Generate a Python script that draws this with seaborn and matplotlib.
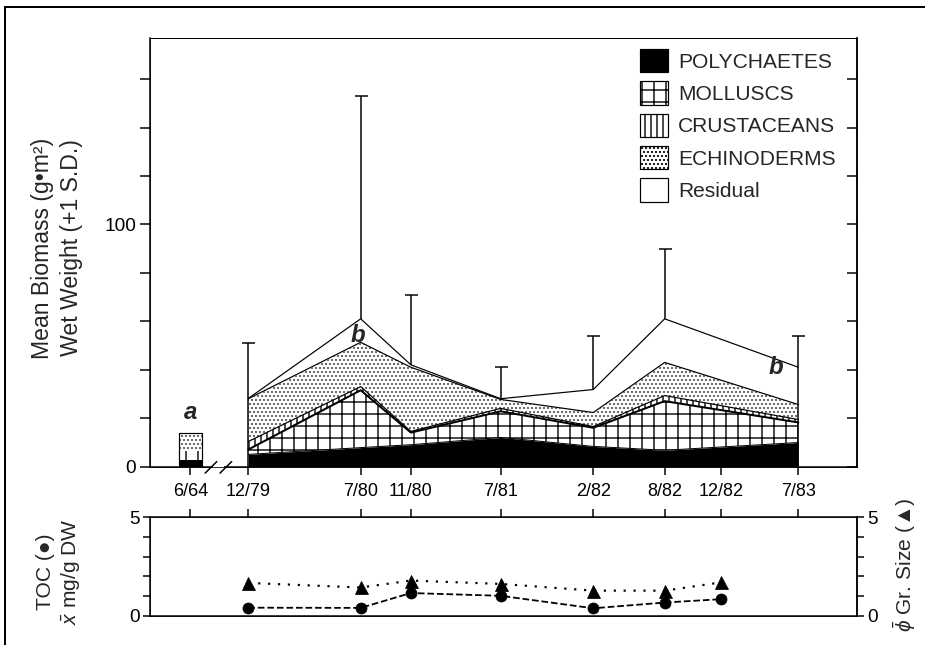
import matplotlib
matplotlib.use("Agg")
import matplotlib.pyplot as plt
from matplotlib.lines import Line2D
from matplotlib.patches import Patch, Rectangle
import numpy as np
import seaborn as sns

# Sampling dates and where they sit on the (non-linear) time axis, 0-100
dates = ["6/64", "12/79", "7/80", "11/80", "7/81", "2/82", "8/82", "12/82", "7/83"]
date_pos = [5.7, 13.9, 29.8, 36.9, 49.6, 62.7, 72.8, 80.8, 91.7]

# Mean biomass (g m-2 wet weight) by taxon
bio_dates = ["12/79", "7/80", "11/80", "7/81", "2/82", "8/82", "7/83"]
polychaetes = [5.0, 7.8, 9.0, 12.0, 8.3, 6.7, 9.9]
molluscs = [2.0, 23.7, 5.0, 10.8, 7.7, 20.3, 8.3]
crustaceans = [3.3, 1.5, 0.5, 1.2, 0.5, 2.3, 1.2]
echinoderms = [17.7, 18.3, 26.5, 3.7, 5.8, 13.7, 6.2]
residual = [0.1, 9.7, 1.0, 0.3, 9.5, 18.0, 15.4]
total_sd = [23, 92, 29, 13, 22, 29, 13]

# 6/64 survey: polychaetes, molluscs, crustaceans, echinoderms, residual
early_date = "6/64"
early_bar = [2.5, 3.7, 0.3, 7.5, 0.0]

# Sediment: total organic carbon and mean grain size (phi)
env_dates = ["12/79", "7/80", "11/80", "7/81", "2/82", "8/82", "12/82"]
toc = [0.42, 0.41, 1.16, 1.02, 0.39, 0.68, 0.85]
grain_size = [1.67, 1.44, 1.79, 1.62, 1.28, 1.28, 1.70]

labels = ["POLYCHAETES", "MOLLUSCS", "CRUSTACEANS", "ECHINODERMS", "Residual"]
faces = ["black", "white", "white", "white", "white"]
hatches = [None, "+", "||", "...", None]
hatch_cols = ["black", "black", "black", "#555555", "black"]
top_lw = [1.0, 2.0, 1.2, 1.2, 1.2]

sns.set_style("ticks")
plt.rcParams["font.family"] = ["Liberation Sans", "DejaVu Sans"]
plt.rcParams["mathtext.fontset"] = "custom"
plt.rcParams["mathtext.rm"] = "Liberation Sans"
plt.rcParams["mathtext.it"] = "Liberation Sans:italic"
plt.rcParams["hatch.linewidth"] = 1.4
plt.rcParams["axes.edgecolor"] = "black"
plt.rcParams["xtick.color"] = "black"
plt.rcParams["ytick.color"] = "black"

W, H = 925, 645
fig = plt.figure(figsize=(W / 72, H / 72), dpi=72)
ax1 = fig.add_axes([150 / W, 1 - 466.5 / H, 707 / W, 428.5 / H])
ax2 = fig.add_axes([150 / W, 1 - 616 / H, 707 / W, 99 / H])

pos = dict(zip(dates, date_pos))

# ---- top panel: stacked biomass ----
x = np.array([pos[d] for d in bio_dates])
layers = np.vstack([polychaetes, molluscs, crustaceans, echinoderms, residual])
cum = np.cumsum(layers, axis=0)
base = np.vstack([np.zeros(len(x)), cum[:-1]])

for i in range(len(labels)):
    ax1.fill_between(x, base[i], cum[i], facecolor=faces[i],
                     edgecolor=hatch_cols[i], hatch=hatches[i], linewidth=0,
                     zorder=1)
    ax1.plot(x, cum[i], color="black", lw=top_lw[i], zorder=2)

total = cum[-1]
sd = np.array(total_sd)
ax1.vlines(x, total, total + sd, color="black", lw=1.5, zorder=3)
ax1.plot(x, total + sd, ls="none", marker="_", ms=13, mew=1.5,
         color="black", zorder=3)
ax1.vlines([x[0], x[-1]], 0, [total[0], total[-1]], color="black", lw=1.5,
           zorder=3)

# 6/64 bar
ex = pos[early_date]
eb = np.cumsum(early_bar)
ebase = np.concatenate([[0], eb[:-1]])
for i in range(len(labels)):
    if early_bar[i] <= 0:
        continue
    ax1.bar(ex, early_bar[i], bottom=ebase[i], width=3.3, facecolor=faces[i],
            edgecolor=hatch_cols[i], hatch=hatches[i], linewidth=0, zorder=1)
ax1.bar(ex, eb[-1], width=3.3, fill=False, edgecolor="black", lw=1.2, zorder=2)

# significance letters
ax1.text(ex, 22.5, "a", ha="center", va="center", fontsize=24,
         fontweight="bold", fontstyle="italic")
ax1.text(29.4, 54.3, "b", ha="center", va="center", fontsize=24,
         fontweight="bold", fontstyle="italic")
ax1.text(88.5, 40.7, "b", ha="center", va="center", fontsize=24,
         fontweight="bold", fontstyle="italic")

ax1.set_xlim(0, 100)
ax1.set_ylim(0, 177)
ax1.set_xticks(date_pos, dates)
yt = np.arange(0, 161, 20)
ax1.set_yticks(yt, [str(v) if v in (0, 100) else "" for v in yt])
ax1.tick_params(axis="x", direction="out", length=8, width=1.5, pad=9,
                labelsize=18)
ax1.tick_params(axis="y", direction="out", length=10, width=1.5, pad=4,
                labelsize=19)
for s in ax1.spines.values():
    s.set_linewidth(1.5)
ax1.spines["top"].set_linewidth(1.0)

ax1r = ax1.twinx()
ax1r.set_ylim(0, 177)
ax1r.set_yticks(yt)
ax1r.tick_params(axis="y", direction="in", length=10, width=1.5,
                 labelright=False)
ax1r.spines["right"].set_linewidth(1.5)

# axis break marks
ax1.add_patch(Rectangle((0.089, -0.01), 0.015, 0.02, transform=ax1.transAxes,
                        facecolor="white", edgecolor="none", clip_on=False,
                        zorder=5))
for x0 in (0.078, 0.099):
    ax1.add_line(Line2D([x0, x0 + 0.0165], [-0.0155, 0.0115],
                        transform=ax1.transAxes, color="black", lw=1.5,
                        clip_on=False, zorder=6))

handles = [Patch(facecolor=faces[i], edgecolor="black", hatch=hatches[i],
                 linewidth=1.2, label=labels[i]) for i in range(len(labels))]
ax1.legend(handles=handles, loc="upper left", bbox_to_anchor=(0.693, 0.974),
           frameon=False, fontsize=21, handlelength=1.33, handleheight=1.33,
           labelspacing=0.43, handletextpad=0.48, borderpad=0,
           borderaxespad=0)

# ---- bottom panel: sediment ----
ex_env = [pos[d] for d in env_dates]
sns.lineplot(x=ex_env, y=toc, ax=ax2, color="black", linestyle="--", lw=1.8,
             marker="o", markersize=11, markeredgecolor="black")
ax2.set_xlim(0, 100)
ax2.set_ylim(0, 5)
ax2.xaxis.tick_top()
ax2.set_xticks(date_pos, [""] * len(date_pos))
ax2.tick_params(axis="x", direction="out", length=8, width=1.5)
ax2.set_yticks(range(6), ["0", "", "", "", "", "5"])
ax2.tick_params(axis="y", direction="out", length=7, width=1.5, pad=3,
                labelsize=19)
for s in ax2.spines.values():
    s.set_linewidth(1.5)

ax2r = ax2.twinx()
sns.lineplot(x=ex_env, y=grain_size, ax=ax2r, color="black",
             linestyle=(0, (1, 3.5)), lw=2.2, marker="^", markersize=13,
             markeredgecolor="black")
ax2r.set_ylim(0, 5)
ax2r.set_yticks(range(6), ["0", "", "", "", "", "5"])
ax2r.tick_params(axis="y", direction="out", length=7, width=1.5, pad=3,
                 labelsize=19)
ax2r.spines["right"].set_linewidth(1.5)
ax2.set_xlim(0, 100)

# axis titles
fig.text(57 / W, 1 - 248 / H, "Mean Biomass (g\u2022m\u00b2)\nWet Weight (+1 S.D.)",
         rotation=90, ha="center", va="center", fontsize=23, linespacing=1.3)
fig.text(59 / W, 1 - 572 / H, "TOC (\u25cf)\n$\\bar{x}$ mg/g DW",
         rotation=90, ha="center", va="center", fontsize=21, linespacing=1.25)
fig.text(905 / W, 1 - 565 / H, "$\\bar{\\phi}$ Gr. Size (\u25b2)",
         rotation=90, ha="center", va="center", fontsize=21)

# page frame
fig.add_artist(Line2D([5 / W, 5 / W], [0, 1 - 7 / H], transform=fig.transFigure,
                      color="black", lw=2))
fig.add_artist(Line2D([5 / W, 1], [1 - 7 / H, 1 - 7 / H],
                      transform=fig.transFigure, color="black", lw=2))

fig.savefig("out.png", dpi=72)
